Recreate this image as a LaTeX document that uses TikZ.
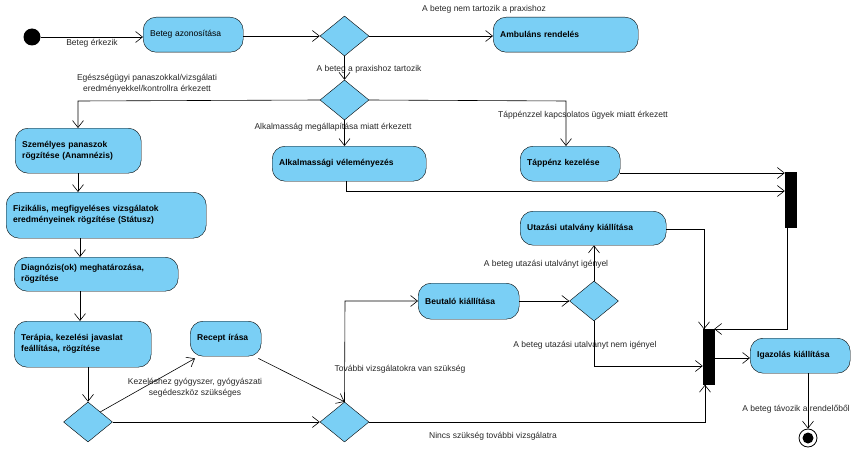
\documentclass[tikz,border=0pt]{standalone}
\usepackage{fontspec}
\setmainfont{Liberation Sans}
\usetikzlibrary{arrows.meta,shapes.geometric}
\definecolor{actfill}{HTML}{7ACFF5}
\tikzset{
  act/.style={draw=black, fill=actfill, rounded corners=13pt, anchor=north west, align=left, inner xsep=7pt, inner ysep=0pt, font=\fontsize{8.5}{11}\selectfont\bfseries},
  dec/.style={draw=black, fill=actfill, diamond, minimum width=49pt, minimum height=40pt, inner sep=0pt},
  bar/.style={fill=black, draw=black, minimum width=11pt, inner sep=0pt},
  lbl/.style={font=\fontsize{8.5}{11}\selectfont, align=center, inner sep=1pt, text=black!85},
  flow/.style={draw=black, line width=0.6pt, -{Straight Barb[length=7pt,width=11pt,line width=0.6pt]}},
}
\newcommand\actbox[6]{\node[act, text width=#4pt-14pt, minimum height=#5pt] (#1) at (#2,#3) {#6};}
\begin{document}
\begin{tikzpicture}[x=1pt,y=-1pt]
\useasboundingbox (0,0) rectangle (860,452);
% nodes
\node[circle, fill=black, minimum size=17pt, inner sep=0pt] (start) at (32,37) {};
\node[act, text width=86pt, minimum height=35pt, font=\fontsize{8.5}{11}\selectfont] (azon) at (143,17) {Beteg azonosítása};
\actbox{amb}{493}{17}{145}{35}{Ambuláns rendelés}
\node[dec] (d1) at (344.5,36) {};
\node[dec] (d2) at (344.5,100) {};
\actbox{szem}{15}{128}{126}{45}{Személyes panaszok\\rögzítése (Anamnézis)}
\actbox{fiz}{6}{192}{200}{46}{Fizikális, megfigyeléses vizsgálatok\\eredményeinek rögzítése (Státusz)}
\actbox{diag}{14}{257}{164}{34}{Diagnózis(ok) meghatározása,\\rögzítése}
\actbox{ter}{14}{321}{137}{46}{Terápia, kezelési javaslat\\feállítása, rögzítése}
\actbox{alk}{272}{146}{154}{35}{Alkalmassági véleményezés}
\actbox{tap}{520}{146}{100}{35}{Táppénz kezelése}
\actbox{uta}{520}{211}{146}{34}{Utazási utalvány kiállítása}
\actbox{beu}{418}{283}{101}{36}{Beutaló kiállítása}
\actbox{rec}{190}{321}{71}{35}{Recept írása}
\actbox{iga}{750}{338}{100}{35}{Igazolás kiállítása}
\node[dec] (d3) at (594,301) {};
\node[dec] (d4) at (88,422) {};
\node[dec] (d5) at (344.5,422) {};
\node[bar, minimum height=55pt] (bar1) at (790.5,199.5) {};
\node[bar, minimum height=55pt] (bar2) at (708.5,357) {};
\node[circle, draw=black, line width=0.8pt, minimum size=18pt, inner sep=0pt] (end) at (808,438) {};
\fill[black] (end) circle (5.5pt);
% labels
\node[lbl] (l1) at (92,43) {Beteg érkezik};
\node[lbl] (l2) at (484,9) {A beteg nem tartozik a praxishoz};
\node[lbl] (l3) at (369,69) {A beteg a praxishoz tartozik};
\node[lbl] (l4) at (147,84) {Egészségügyi panaszokkal/vizsgálati\\eredményekkel/kontrollra érkezett};
\node[lbl] (l5) at (333,127) {Alkalmasság megállapítása miatt érkezett};
\node[lbl] (l6) at (583,115) {Táppénzzel kapcsolatos ügyek miatt érkezett};
\node[lbl] (l7) at (195,388) {Kezeléshez gyógyszer, gyógyászati\\segédeszköz szükséges};
\node[lbl] (l8) at (400,369) {További vizsgálatokra van szükség};
\node[lbl] (l9) at (493,436) {Nincs szükség további vizsgálatra};
\node[lbl] (l10) at (546,264) {A beteg utazási utalványt igényel};
\node[lbl] (l11) at (585,345) {A beteg utazási utalványt nem igényel};
\node[lbl] (l12) at (796,409) {A beteg távozik a rendelőből};
% connectors
\draw[flow] (start) -- (azon.west |- start);
\draw[flow] (azon.east |- d1) -- (d1.west);
\draw[flow] (d1.east) -- (amb.west |- d1);
\draw[flow] (d1.south) -- (d2.north);
\coordinate (c1) at (78,101);
\draw[flow] (d2.west) -- (c1) -- (szem.north -| c1);
\draw[flow] (d2.south) -- (alk.north -| d2);
\coordinate (c2) at (566,101);
\draw[flow] (d2.east) -- (c2) -- (tap.north -| c2);
\draw[flow] (szem.south -| c1) -- (fiz.north -| c1);
\draw[flow] (fiz.south -| 80,0) -- (diag.north -| 80,0);
\draw[flow] (diag.south -| 80,0) -- (ter.north -| 80,0);
\draw[flow] (ter.south -| d4) -- (d4.north);
\draw[flow] (tap.east |- 0,173) -- (bar1.west |- 0,173);
\coordinate (c3) at (346,191);
\draw[flow] (alk.south -| c3) -- (c3) -- (bar1.west |- c3);
\draw[flow] (d4.north east) -- ([xshift=5pt,yshift=-2pt]rec.south west);
\draw[flow] (d4.east) -- (d5.west);
\draw[flow] ([xshift=-3pt,yshift=-2pt]rec.south east) -- (d5.north);
\coordinate (c4) at (345,301);
\draw[flow] (d5.north) -- (c4) -- (beu.west |- c4);
\coordinate (c5) at (705,422);
\draw[flow] (d5.east) -- (c5) -- (bar2.south -| c5);
\draw[flow] (beu.east |- d3) -- (d3.west);
\draw[flow] (d3.north) -- (uta.south -| d3);
\coordinate (c6) at (594,366);
\draw[flow] (d3.south) -- (c6) -- (bar2.west |- c6);
\coordinate (c7) at (704,229);
\draw[flow] (uta.east |- c7) -- (c7) -- (bar2.north -| c7);
\coordinate (c8) at (787,329);
\draw[flow] (bar1.south -| c8) -- (c8) -- (bar2.east |- c8);
\draw[flow] (bar2.east |- 0,358) -- (iga.west |- 0,358);
\draw[flow] (iga.south -| end) -- (end.north);
\end{tikzpicture}
\end{document}
